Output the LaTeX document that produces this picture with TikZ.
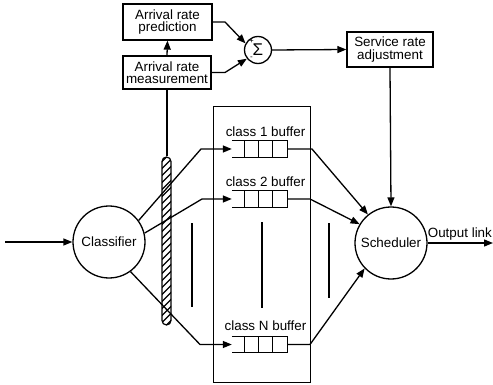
\documentclass[tikz,border=0pt]{standalone}
\usepackage{fontspec}
\setmainfont{Liberation Sans}
\usetikzlibrary{arrows.meta,calc}
\begin{document}
\begin{tikzpicture}[x=1pt,y=-1pt,
  every node/.style={font=\fontsize{13.4}{12.5}\selectfont, inner sep=0pt, align=center},
  box/.style={draw, line width=1.3pt},
  circ/.style={draw, circle, line width=1.3pt},
  ln/.style={line width=1.3pt},
  thickbar/.style={line width=2.4pt},
  arr/.style={ln, -{Triangle[length=9pt,width=7pt]}},
  bar/.style={draw, line width=1.2pt, rounded corners=4.5pt, minimum width=9pt, minimum height=168pt,
    path picture={\foreach \k in {-14,...,14} \draw[line width=1.4pt] ($(path picture bounding box.center)+(-6,7*\k+6)$) -- ++(12,-12);}},
  frame/.style={draw, line width=1pt},
  lbl/.style={font=\fontsize{13.4}{12.5}\selectfont},
  sign/.style={font=\fontsize{8}{8}\selectfont}
]
\useasboundingbox (0,0) rectangle (493,385);

% top boxes
\node[box, minimum width=89pt, minimum height=36pt] (pred) at (167.5,22) {Arrival rate\\prediction};
\node[box, minimum width=88pt, minimum height=33pt] (meas) at (167,72.5) {Arrival rate\\measurement};
\node[circ, minimum size=27pt] (sum) at (258,50) {\fontsize{17}{17}\selectfont Σ};
\node[sign] (plus) at (251.5,41) {+};
\node[sign] (minus) at (251.5,58.5) {-};
\node[box, minimum width=86pt, minimum height=35pt] (serv) at (390,49.5) {Service rate\\adjustment};

% frame and buffers
\node[frame, minimum width=97pt, minimum height=275pt] (frm) at (261.5,244.5) {};
\node[minimum width=55pt, minimum height=16pt] (b1) at (259.5,149) {};
\node[minimum width=55pt, minimum height=16pt] (b2) at (259.5,199) {};
\node[minimum width=55pt, minimum height=16pt] (bN) at (259.5,344.5) {};
\foreach \b in {b1,b2,bN}{
  \draw[ln] (\b.north west) -- (\b.north east) -- (\b.south east) -- (\b.south west);
  \foreach \d in {13,27,41} \draw[ln] ($(\b.north west)+(\d,0)$) -- ($(\b.south west)+(\d,0)$);
}
\node[lbl] (l1) at (265.5,132) {class 1 buffer};
\node[lbl] (l2) at (265.5,182) {class 2 buffer};
\node[lbl] (lN) at (265.5,326) {class N buffer};

% circles
\node[circ, minimum size=72pt] (cls) at (109,242) {Classifier};
\node[circ, minimum size=72pt] (sch) at (391,243) {Scheduler};

% hatched bar
\node[bar] (hb) at (166.5,241) {};

% ellipsis bars
\draw[thickbar] (192,223) -- (192,307);
\draw[thickbar] (262,222) -- (262,308);
\draw[thickbar] (329,223) -- (329,298);

% connectors
\coordinate (in) at (5,242);
\coordinate (out) at (493,243);
\draw[arr] (in) -- (cls.west);
\draw[arr] (cls.36) -- (201,149) -- (b1.west);
\draw[arr] (cls.14) -- (202,199) -- (b2.west);
\draw[arr] (cls.-54) -- (200,344.5) -- (bN.west);
\draw[arr] (b1.east) -- (312,149) -- (sch.129);
\draw[arr] (b2.east) -- (310,199) -- (sch.149);
\draw[arr] (bN.east) -- (310,344.5) -- (sch.224);
\draw[arr] (serv.south) -- (sch.north);
\draw[arr] (sch.east) -- (out);
\node[lbl, anchor=south west] (outl) at ($(sch.east)+(0,-3)$) {Output link};
\draw[arr] (meas.north) -- (pred.south);
\draw[ln] (meas.south) -- (meas.south |- hb.north);
\draw[arr] (pred.east) -- (225,22) -- (sum.152);
\draw[arr] (meas.east) -- (225,72.5) -- (sum.218);
\draw[arr] (sum.east) -- (serv.west);
\end{tikzpicture}
\end{document}
